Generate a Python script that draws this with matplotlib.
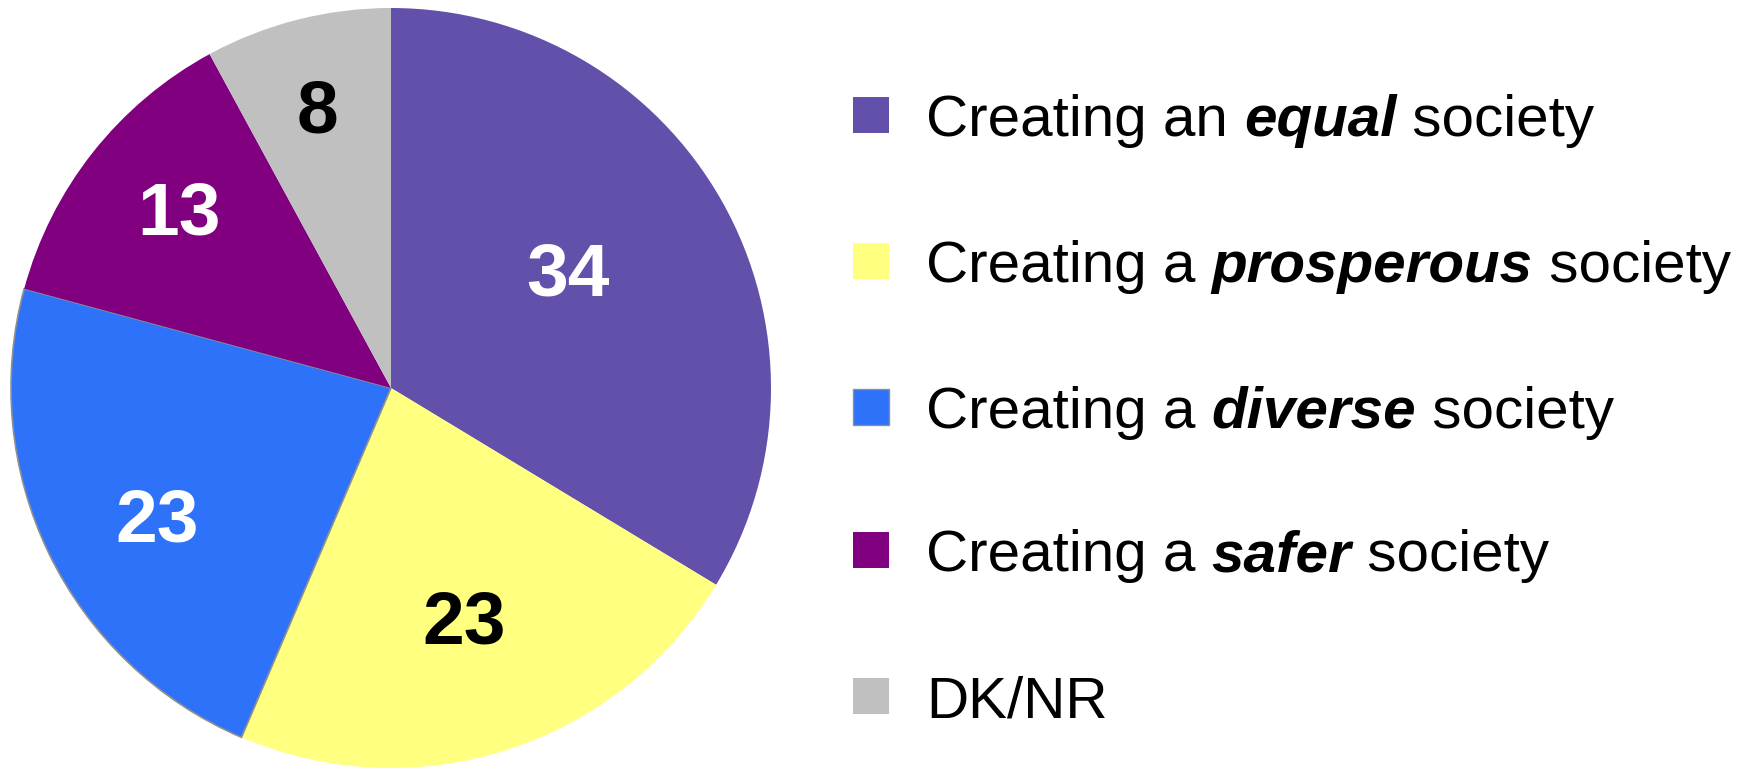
import numpy as np
import matplotlib
matplotlib.use('Agg')
import matplotlib.pyplot as plt
from matplotlib.patches import Rectangle

plt.rcParams['font.family'] = ['Liberation Sans', 'DejaVu Sans']

# --- data ---
values = [34, 23, 23, 13, 8]
colors = ['#6350AA', '#FFFF80', '#2E72FA', '#800080', '#C0C0C0']
value_colors = ['white', 'black', 'white', 'white', 'black']
# legend: (before, emphasised word, after)
legend_parts = [
    ('Creating an ', 'equal', ' society'),
    ('Creating a ', 'prosperous', ' society'),
    ('Creating a ', 'diverse', ' society'),
    ('Creating a ', 'safer', ' society'),
    ('DK/NR', '', ''),
]
label_r = [0.55, 0.65, 0.71, 0.72, 0.75]
label_dth = [3.0, -0.5, 4.0, -0.8, 0.7]

W, H = 1754, 768
fig = plt.figure(figsize=(W / 100, H / 100), dpi=100)

# pie: center (391, 388) px from top, radius 380 px
cx, cy, R = 391, 388, 380
ax = fig.add_axes([(cx - R) / W, (H - cy - R) / H, 2 * R / W, 2 * R / H])
wedges, _ = ax.pie(values, colors=colors, startangle=90, counterclock=False,
                   radius=1, wedgeprops=dict(linewidth=0))
wedges[2].set_edgecolor('#909090')
wedges[2].set_linewidth(1.2)
ax.set_xlim(-1, 1); ax.set_ylim(-1, 1)
ax.set_aspect('equal')
for w, v, c, r, d in zip(wedges, values, value_colors, label_r, label_dth):
    th = np.deg2rad((w.theta1 + w.theta2) / 2 + d)
    ax.text(r * np.cos(th), r * np.sin(th), str(v), ha='center', va='center',
            fontsize=54, fontweight='bold', color=c)

# legend drawn in pixel coordinates
lax = fig.add_axes([0, 0, 1, 1])
lax.set_xlim(0, W); lax.set_ylim(H, 0)
lax.axis('off')
renderer = fig.canvas.get_renderer()
row_y = [115, 261, 407, 550, 696]
fs = 42
for (a, b, c), col, y in zip(legend_parts, colors, row_y):
    lax.add_patch(Rectangle((853, y - 18), 36, 36, facecolor=col,
                            edgecolor='#909090' if col == '#2E72FA' else 'none', lw=1))
    x = 926
    for txt, style in ((a, 'normal'), (b, 'bold'), (c, 'normal')):
        if not txt:
            continue
        t = lax.text(x, y + 21, txt, fontsize=fs, va='baseline', ha='left',
                     fontweight=style, fontstyle='italic' if style == 'bold' else 'normal')
        bb = t.get_window_extent(renderer)
        x += bb.width

fig.savefig('out.png', dpi=100)
